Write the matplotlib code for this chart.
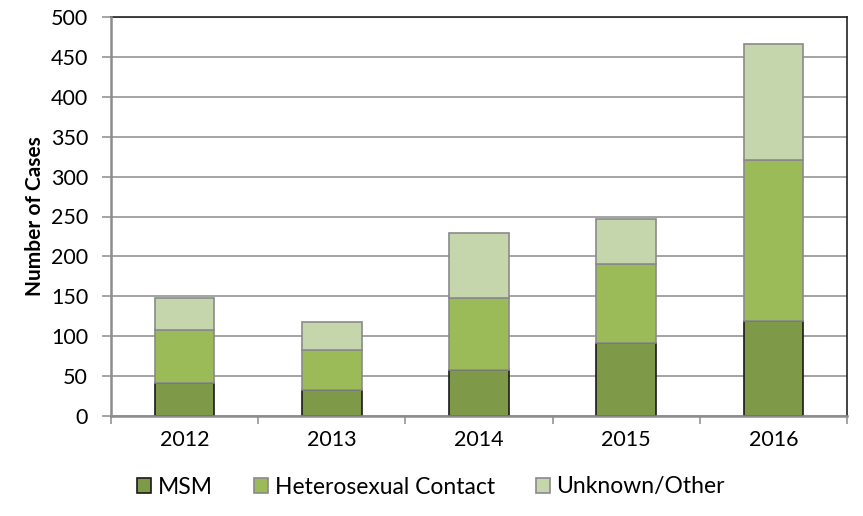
import matplotlib
matplotlib.use("Agg")
import matplotlib.pyplot as plt
import numpy as np
from matplotlib import ticker
from matplotlib.patches import Patch

years = ["2012", "2013", "2014", "2015", "2016"]
msm = [41, 33, 58, 92, 119]
hetero = [67, 50, 90, 99, 202]
unknown = [40, 35, 81, 56, 145]
labels = ["MSM", "Heterosexual Contact", "Unknown/Other"]


def plot_cases():
    plt.rcParams["font.family"] = ["Lato", "DejaVu Sans"]
    plt.rcParams["font.size"] = 15.5

    fig = plt.figure(figsize=(8.63, 5.16), dpi=100)
    ax = fig.add_axes([111 / 863, 1 - 416 / 516, 736 / 863, 399 / 516])

    x = np.arange(len(years))
    msm_arr = np.array(msm)
    het_arr = np.array(hetero)
    unk_arr = np.array(unknown)
    width = 0.405

    colors = ["#7E9A48", "#9BBB59", "#C6D6AC"]
    edge = "#8A8A8A"

    ax.bar(x, msm_arr, width, color=colors[0], edgecolor="#1A1A1A", linewidth=1.2, zorder=3)
    ax.bar(x, het_arr, width, bottom=msm_arr, color=colors[1], edgecolor=edge, linewidth=1.2, zorder=3)
    ax.bar(x, unk_arr, width, bottom=msm_arr + het_arr, color=colors[2], edgecolor=edge, linewidth=1.2, zorder=3)

    ax.set_xlim(-0.5, len(years) - 0.5)
    ax.set_ylim(0, 500)
    ax.yaxis.set_major_locator(ticker.MultipleLocator(50))
    ax.grid(axis="y", color="#8C8C8C", linewidth=1.1, zorder=0)

    ax.set_xticks(x)
    ax.set_xticklabels(years)
    ax.set_xticks(np.arange(len(years) + 1) - 0.5, minor=True)
    ax.tick_params(axis="x", which="major", length=0, pad=10)
    ax.tick_params(axis="x", which="minor", length=6, color="#8C8C8C", width=1.1)
    ax.tick_params(axis="y", length=6.5, color="#8C8C8C", width=1.1, pad=10)

    for side in ["left", "bottom"]:
        ax.spines[side].set_color("#8C8C8C")
        ax.spines[side].set_linewidth(1.8)
        ax.spines[side].set_zorder(4)
    for side in ["top", "right"]:
        ax.spines[side].set_color("#222222")
        ax.spines[side].set_linewidth(1.2)

    ax.set_ylabel("Number of Cases", fontweight="bold", fontsize=15, labelpad=4)

    handles = [
        Patch(facecolor=colors[0], edgecolor="#1A1A1A", linewidth=1.2),
        Patch(facecolor=colors[1], edgecolor=edge, linewidth=1.2),
        Patch(facecolor=colors[2], edgecolor=edge, linewidth=1.2),
    ]
    fig.legend(handles, labels, loc="center", bbox_to_anchor=(431 / 863, 1 - 487 / 516),
               ncol=3, frameon=False, handlelength=0.6, handleheight=0.6,
               handletextpad=0.3, columnspacing=1.8, fontsize=16.5)

    fig.savefig("out.png", dpi=100)


if __name__ == "__main__":
    plot_cases()
